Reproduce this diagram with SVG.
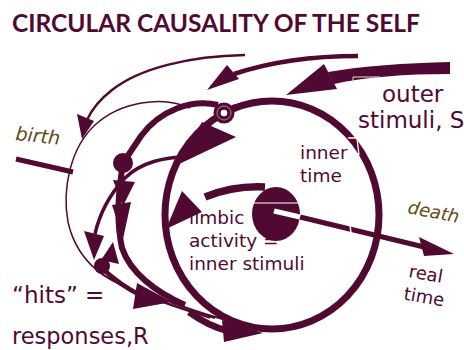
<svg xmlns="http://www.w3.org/2000/svg" width="464" height="350" viewBox="0 0 464 350">
<style>
.ln{fill:none;stroke:#500a32;stroke-linecap:butt}
.fl{fill:#500a32;stroke:none}
.t{font-family:"DejaVu Sans",sans-serif;fill:#500a32}
.ol{font-family:"DejaVu Sans",sans-serif;font-style:italic;fill:#644a14}
.wh{fill:none;stroke:#ffffff}
</style>
<rect width="464" height="350" fill="#ffffff"/>
<text x="12" y="32" font-family="Lato, Liberation Sans, sans-serif" font-weight="bold" font-size="24" fill="#500a32" textLength="408" lengthAdjust="spacingAndGlyphs">CIRCULAR CAUSALITY OF THE SELF</text>

<g id="connectors">
  <!-- incoming arrows from top right -->
  <path class="ln" stroke-width="2.5" d="M245,55 C190,56 140,68 112,90 C99,100 92,109 87,120"/>
  <polygon class="fl" points="77,114 94,121 82,139"/>
  <path class="ln" stroke-width="4.5" d="M358,56 C310,56 270,62 234,74"/>
  <polygon class="fl" points="227,65 239,79 207,90"/>
  <path class="fl" d="M450,62 L450,74 C405,74 365,77 334,84 L328,72 C362,66 405,63 450,62 Z"/>
  <polygon class="fl" points="324,64 337,89 286,95"/>
  <path d="M353,83 L353,77 L380,77" fill="none" stroke="#e4dde0" stroke-width="1"/>

  <!-- thin birth loop -->
  <path class="ln" stroke-width="1.5" d="M190,108 C162,95 120,102 95,125 C70,148 62,190 68,222 C73,245 85,262 103,275 C125,290 160,303 210,318"/>
  <path class="ln" stroke-width="5" d="M16,159 L73,172"/>

  <!-- main circle -->
  <ellipse class="ln" stroke-width="7" cx="272" cy="215" rx="107" ry="114"/>
  <polygon class="fl" points="202,122 236,137 177,165"/>
  <path class="ln" stroke-width="2" d="M232,106 Q250,101 268,100"/>
  <path class="wh" stroke-width="1.3" d="M348,138 L357,138 L359,155"/>

  <!-- middle loop -->
  <path class="ln" stroke-width="6" d="M218,105 C192,99 160,110 141,136 L125,160"/>
  <path class="ln" stroke-width="6" d="M122,170 C118,195 117,225 122,248 C130,272 155,292 185,305"/>
  <polygon class="fl" points="113,180 135,182 123,206"/>
  <polygon class="fl" points="112,205 131,202 123,239"/>

  <!-- arc from main circle to hits -->
  <path class="ln" stroke-width="3.5" d="M190,157 C165,156 140,163 125,178 C110,194 100,212 95,234"/>
  <polygon class="fl" points="84,231 104,236 94,260"/>
  <polygon class="fl" points="101,260 119,264 113,242"/>
  <circle class="fl" cx="102" cy="266" r="8"/>

  <!-- bundle towards bottom -->
  <path class="ln" stroke-width="4.5" d="M104,270 C116,281 126,288 140,295"/>
  <polygon class="fl" points="137,283 133,309 172,302"/>
  <path class="ln" stroke-width="2" d="M170,302 C185,307 200,313 226,320"/>
  <path class="ln" stroke-width="2" d="M102,274 C130,292 170,305 215,318"/>
  <path class="ln" stroke-width="6.5" stroke-linecap="round" d="M189,312 C200,320 212,327 228,331"/>
  <polygon class="fl" points="222,320 224,342 263,333"/>

  <!-- limbic arc -->
  <path class="ln" stroke-width="7.5" d="M265,187 C245,186 225,189 205,197"/>
  <polygon class="fl" points="182,191 202,212 166,229"/>

  <!-- death / real time arrow -->
  <path class="ln" stroke-width="5" d="M300,217 L424,247"/>
  <polygon class="fl" points="419,237 424,256 454,254"/>
  <path class="wh" stroke-width="1.5" d="M350,224 L351,234"/>
</g>

<g id="ring">
  <circle class="fl" cx="224" cy="113" r="10.5"/>
  <circle cx="224" cy="113" r="7" fill="none" stroke="#c7a3b4" stroke-width="0.8"/>
  <circle cx="224" cy="113" r="3.3" fill="#ffffff"/>
</g>
<g id="dot">
  <circle class="fl" cx="123" cy="163" r="10"/>
</g>
<g id="limbic-center">
  <ellipse class="fl" cx="276" cy="214" rx="24" ry="27"/>
  <path class="wh" stroke-width="1" d="M252,203 L300,203"/>
  <path class="wh" stroke-width="5" d="M274,211 L300,217"/>
</g>

<g id="labels">
  <text class="t" x="382" y="102" font-size="23">outer</text>
  <text class="t" x="358" y="128" font-size="23">stimuli, S</text>
  <text class="t" x="300" y="159" font-size="18.5">inner</text>
  <text class="t" x="300" y="182" font-size="18.5">time</text>
  <text class="t" x="189" y="224" font-size="18.5">limbic</text>
  <text class="t" x="189" y="247" font-size="18.5">activity =</text>
  <text class="t" x="189" y="270" font-size="18.5">inner stimuli</text>
  <text class="ol" font-size="19" transform="translate(15,140) rotate(6)">birth</text>
  <text class="ol" font-size="18" transform="translate(407,213) rotate(11)">death</text>
  <g transform="translate(408,277) rotate(10)">
    <text class="t" x="0" y="0" font-size="18">real</text>
    <text class="t" x="-1" y="23" font-size="18">time</text>
  </g>
  <text class="t" x="12" y="303" font-size="23">“hits” =</text>
  <text class="t" x="12" y="344" font-size="22.5">responses,R</text>
</g>
</svg>
